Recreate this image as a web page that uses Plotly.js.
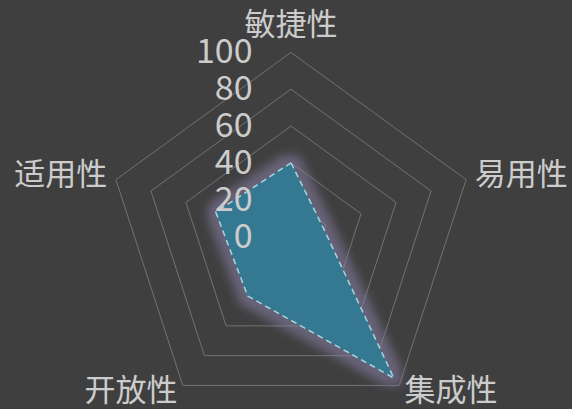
<!DOCTYPE html>
<html><head><meta charset="utf-8">
<script src="https://cdn.plot.ly/plotly-3.0.1.min.js"></script>
<style>
html,body{margin:0;padding:0;overflow:hidden;background:#3f3f3f;width:572px;height:409px}
#chart .scatterlayer .trace:first-child path.js-fill{filter:url(#glowf);}
</style>
</head><body>
<svg width="0" height="0" style="position:absolute">
  <defs>
    <filter id="glowf" x="-25%" y="-25%" width="150%" height="150%" color-interpolation-filters="sRGB">
      <feMorphology in="SourceAlpha" operator="dilate" radius="8" result="d"/>
      <feGaussianBlur in="d" stdDeviation="5" result="b"/>
      <feFlood flood-color="#8a80a8" flood-opacity="0.55"/>
      <feComposite in2="b" operator="in" result="g"/>
      <feMerge><feMergeNode in="g"/><feMergeNode in="SourceGraphic"/></feMerge>
    </filter>
  </defs>
</svg>
<div id="chart"></div>
<script>
const categories = ['敏捷性','易用性','集成性','开放性','适用性'];
const scores = [40, 18, 95, 40, 43];
const radialTicks = [0, 20, 40, 60, 80, 100];
const labelPositions = ['top center','middle right','middle right','middle left','middle left'];

const R_MAX = 110;      // axis extends a bit past 100 so category labels sit inside it
const LABEL_R = 105;
const font = '"Noto Sans CJK SC", "Noto Sans", sans-serif';

const rClosed = scores.concat([scores[0]]);
const thetaClosed = categories.concat([categories[0]]);

const area = {
  type: 'scatterpolar',
  r: rClosed,
  theta: thetaClosed,
  mode: 'lines',
  fill: 'toself',
  fillcolor: '#357891',
  line: {color: '#a3d6df', width: 1.5, dash: '6px,4px'},
  hoverinfo: 'skip'
};

const labels = {
  type: 'scatterpolar',
  r: categories.map(function(){ return LABEL_R; }),
  theta: categories,
  mode: 'text',
  text: categories,
  textposition: labelPositions,
  textfont: {family: font, size: 31, color: '#cccccc'},
  cliponaxis: false,
  hoverinfo: 'skip'
};

const layout = {
  width: 572, height: 445,
  margin: {l: 10, r: 0, t: 34, b: 6},
  paper_bgcolor: '#3f3f3f',
  showlegend: false,
  polar: {
    bgcolor: '#3f3f3f',
    gridshape: 'linear',
    radialaxis: {
      range: [0, R_MAX],
      tickvals: radialTicks,
      ticktext: radialTicks.map(String),
      angle: 90,
      side: 'counterclockwise',
      showline: false,
      ticks: 'outside', ticklen: 26, tickcolor: 'rgba(0,0,0,0)',
      gridcolor: '#727272', gridwidth: 1,
      tickfont: {family: font, size: 34, color: '#cccccc'},
      tickangle: 90
    },
    angularaxis: {
      direction: 'clockwise',
      rotation: 90,
      categoryorder: 'array', categoryarray: categories,
      showgrid: false,
      showline: false,
      ticks: '',
      showticklabels: false
    }
  }
};

Plotly.newPlot('chart', [area, labels], layout, {staticPlot: true});
</script>
</body></html>
